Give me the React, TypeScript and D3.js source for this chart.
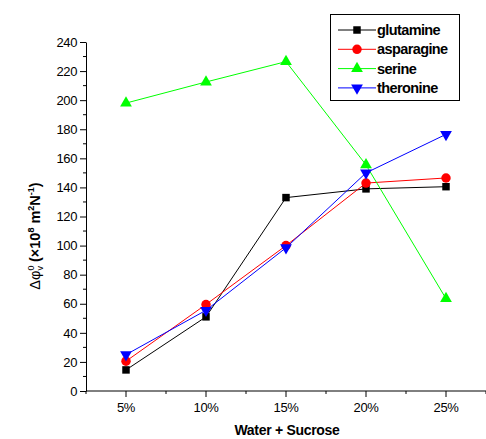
import * as d3 from "d3";
import React, { useEffect, useRef } from "react";

const categories = ["5%", "10%", "15%", "20%", "25%"];
const glutamine = [14.5, 51, 133, 139, 140.5];
const asparagine = [20.5, 59.5, 100, 143, 146.5];
const serine = [198, 212.5, 226.5, 155.5, 63.5];
const theronine = [25, 55.5, 98.5, 150, 176.5];
const yTicks = [0, 20, 40, 60, 80, 100, 120, 140, 160, 180, 200, 220, 240];

interface Series {
    name: string;
    values: number[];
    color: string;
    symbol: d3.SymbolType;
    rotate: number;
    size: number;
}

const seriesList: Series[] = [
    { name: "glutamine", values: glutamine, color: "#000000", symbol: d3.symbolSquare, rotate: 0, size: 56 },
    { name: "asparagine", values: asparagine, color: "#ff0000", symbol: d3.symbolCircle, rotate: 0, size: 70 },
    { name: "serine", values: serine, color: "#00ff00", symbol: d3.symbolTriangle, rotate: 0, size: 60 },
    { name: "theronine", values: theronine, color: "#0000ff", symbol: d3.symbolTriangle, rotate: 180, size: 60 },
];

const W = 486;
const H = 439;
const FONT = "Liberation Sans, Arial, sans-serif";

const App: React.FC = () => {
    const svgRef = useRef<SVGSVGElement>(null);

    useEffect(() => {
        if (!svgRef.current) return;
        const svg = d3.select(svgRef.current);
        svg.selectAll("*").remove();

        // x positions: category index 0..4, axis spans -0.5..5.5
        const x = d3.scaleLinear().domain([-0.5, 4.5]).range([86, 486]);
        const y = d3.scaleLinear().domain([0, 240]).range([391, 42]);

        const g = svg.append("g");

        // y axis
        const yAxis = d3
            .axisLeft(y)
            .tickValues(yTicks)
            .tickSize(6)
            .tickSizeOuter(0)
            .tickPadding(3);
        const ya = g.append("g").attr("transform", "translate(86,0)").call(yAxis);
        ya.select(".domain").attr("stroke", "#000");
        ya.selectAll("text").attr("font-family", FONT).attr("font-size", 13).attr("letter-spacing", -0.4).attr("fill", "#000");
        const yMinor = d3.range(10, 240, 20);
        g.append("g")
            .selectAll("line")
            .data(yMinor)
            .join("line")
            .attr("x1", 83)
            .attr("x2", 86)
            .attr("y1", (d) => y(d))
            .attr("y2", (d) => y(d))
            .attr("stroke", "#000");

        // x axis
        g.append("line")
            .attr("x1", 86)
            .attr("x2", 486)
            .attr("y1", 391)
            .attr("y2", 391)
            .attr("stroke", "#000");
        g.append("g")
            .selectAll("line")
            .data(d3.range(categories.length))
            .join("line")
            .attr("x1", (d) => x(d))
            .attr("x2", (d) => x(d))
            .attr("y1", 391)
            .attr("y2", 397)
            .attr("stroke", "#000");
        g.append("g")
            .selectAll("line")
            .data(d3.range(-0.5, 5, 1))
            .join("line")
            .attr("x1", (d) => x(d))
            .attr("x2", (d) => x(d))
            .attr("y1", 391)
            .attr("y2", 394)
            .attr("stroke", "#000");
        g.append("g")
            .selectAll("text")
            .data(categories)
            .join("text")
            .attr("x", (_, i) => x(i))
            .attr("y", 412)
            .attr("text-anchor", "middle")
            .attr("font-family", FONT)
            .attr("font-size", 13)
            .attr("letter-spacing", -0.4)
            .text((d) => d);

        // axis titles
        g.append("text")
            .attr("x", 287)
            .attr("y", 435)
            .attr("text-anchor", "middle")
            .attr("font-family", FONT)
            .attr("font-size", 14)
            .attr("font-weight", "bold")
            .attr("letter-spacing", -0.3)
            .text("Water + Sucrose");

        const yl = g
            .append("text")
            .attr("transform", "translate(40,236) rotate(-90)")
            .attr("text-anchor", "middle")
            .attr("font-family", FONT)
            .attr("font-size", 14.5);
        yl.append("tspan").text("Δφ");
        yl.append("tspan").attr("font-size", 9).attr("dy", -6).text("0");
        yl.append("tspan").attr("font-size", 9).attr("dy", 9).attr("dx", -5).text("v");
        yl.append("tspan").attr("dy", -3).attr("font-weight", "bold").text(" (×10");
        yl.append("tspan").attr("font-size", 9).attr("dy", -6).attr("font-weight", "bold").text("8");
        yl.append("tspan").attr("dy", 6).attr("font-weight", "bold").text(" m");
        yl.append("tspan").attr("font-size", 9).attr("dy", -6).attr("font-weight", "bold").text("2");
        yl.append("tspan").attr("dy", 6).attr("font-weight", "bold").text("N");
        yl.append("tspan").attr("font-size", 9).attr("dy", -6).attr("font-weight", "bold").text("-1");
        yl.append("tspan").attr("dy", 6).attr("font-weight", "bold").text(")");

        // series
        const line = d3
            .line<number>()
            .x((_, i) => x(i))
            .y((d) => y(d));

        seriesList.forEach((s) => {
            g.append("path")
                .datum(s.values)
                .attr("fill", "none")
                .attr("stroke", s.color)
                .attr("stroke-width", 1)
                .attr("d", line);
        });
        seriesList.forEach((s) => {
            const sym = d3.symbol().type(s.symbol).size(s.size)();
            g.append("g")
                .selectAll("path")
                .data(s.values)
                .join("path")
                .attr("d", sym)
                .attr("transform", (d, i) => `translate(${x(i)},${y(d)}) rotate(${s.rotate})`)
                .attr("fill", s.color);
        });

        // legend
        const lg = g.append("g");
        lg.append("rect")
            .attr("x", 330.5)
            .attr("y", 14.5)
            .attr("width", 129)
            .attr("height", 86)
            .attr("fill", "#fff")
            .attr("stroke", "#000");
        seriesList.forEach((s, i) => {
            const ry = 30 + i * 19.3;
            lg.append("line")
                .attr("x1", 338)
                .attr("x2", 376)
                .attr("y1", ry)
                .attr("y2", ry)
                .attr("stroke", s.color);
            lg.append("path")
                .attr("d", d3.symbol().type(s.symbol).size(s.size)())
                .attr("transform", `translate(357,${ry}) rotate(${s.rotate})`)
                .attr("fill", s.color);
            lg.append("text")
                .attr("x", 377)
                .attr("y", ry + 5)
                .attr("font-family", FONT)
                .attr("font-size", 14.5)
                .attr("font-weight", "bold")
                .attr("letter-spacing", -0.6)
                .text(s.name);
        });
    }, []);

    return <svg ref={svgRef} width={W} height={H} style={{ display: "block", position: "absolute", left: 0, top: 0, background: "#fff" }} />;
};

export default App;
